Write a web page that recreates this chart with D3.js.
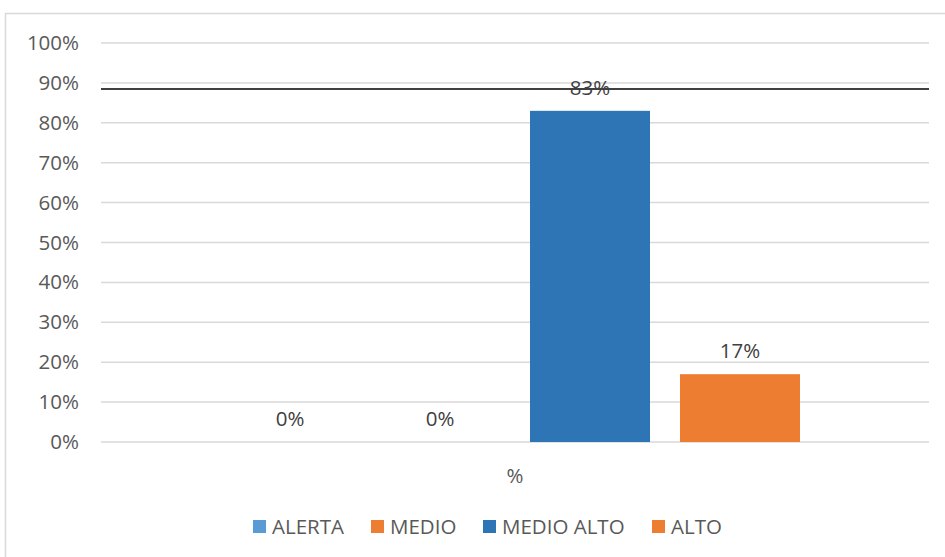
<!DOCTYPE html>
<html><head><meta charset="utf-8">
<script src="https://cdn.jsdelivr.net/npm/d3@7"></script>
<style>body{margin:0;background:#fff}svg{display:block}</style>
</head><body>
<svg id="c" width="945" height="557"></svg>
<script>
const categories = ["ALERTA","MEDIO","MEDIO ALTO","ALTO"];
const values = [0, 0, 0.83, 0.17];
const colors = ["#5B9BD5","#ED7D31","#2E75B6","#ED7D31"];
const groupLabel = ["%"];
const yTicks = [0,0.1,0.2,0.3,0.4,0.5,0.6,0.7,0.8,0.9,1.0];
const refLine = [0.885];

const svg = d3.select("#c");
const W=945,H=557;
const font = "'Open Sans', 'DejaVu Sans', sans-serif";
const fs = 20.5;
svg.append("rect").attr("x",5.5).attr("y",13.5).attr("width",W+20).attr("height",H+20)
  .attr("fill","#fff").attr("stroke","#D9D9D9").attr("stroke-width",1.5);

const y = d3.scaleLinear().domain([0,1]).range([442,43]);
const x0 = d3.scaleBand().domain(groupLabel).range([101,929]);
const x1 = d3.scaleBand().domain(categories).range([215-101,815-101]).paddingInner(0.2).paddingOuter(0.1);

// grid
svg.append("g").selectAll("line").data(yTicks).join("line")
  .attr("x1",101).attr("x2",929).attr("y1",d=>y(d)).attr("y2",d=>y(d))
  .attr("stroke","#D9D9D9").attr("stroke-width",1.5);

// y tick labels
const yAxis = d3.axisLeft(y).tickValues(yTicks).tickFormat(d3.format(".0%")).tickSize(0).tickPadding(0);
const ga = svg.append("g").attr("transform","translate(79,0)").call(yAxis);
ga.select(".domain").remove();
ga.selectAll("text").attr("font-family",font).attr("font-size",fs).attr("fill","#595959");

// bars
const g = svg.append("g").attr("transform",`translate(${x0("%")},0)`);
const bw = x1.bandwidth();
g.selectAll("rect").data(values).join("rect")
  .attr("x",(d,i)=>x1(categories[i])).attr("width",bw)
  .attr("y",d=>y(d)).attr("height",d=>y(0)-y(d)).attr("fill",(d,i)=>colors[i]);

// ref line
svg.append("g").selectAll("line").data(refLine).join("line")
  .attr("x1",101).attr("x2",929).attr("y1",d=>y(d)).attr("y2",d=>y(d))
  .attr("stroke","#404040").attr("stroke-width",2);

// data labels
g.selectAll("text").data(values).join("text")
  .attr("x",(d,i)=>x1(categories[i])+bw/2).attr("y",d=>y(d)-16)
  .attr("text-anchor","middle").attr("font-family",font).attr("font-size",fs).attr("fill","#404040")
  .text(d=>d3.format(".0%")(d));

// category label
svg.append("text").attr("x",x0("%")+x0.bandwidth()/2).attr("y",483).attr("text-anchor","middle")
  .attr("font-family",font).attr("font-size",fs).attr("fill","#595959").text(groupLabel[0]);

// legend
const legX=[253,371,483,652];
const lg = svg.append("g");
categories.forEach((c,i)=>{
  lg.append("rect").attr("x",legX[i]).attr("y",520).attr("width",13).attr("height",13).attr("fill",colors[i]);
  lg.append("text").attr("x",legX[i]+19).attr("y",534).attr("font-family",font).attr("font-size",fs)
    .attr("fill","#595959").text(c);
});
</script>
</body></html>
